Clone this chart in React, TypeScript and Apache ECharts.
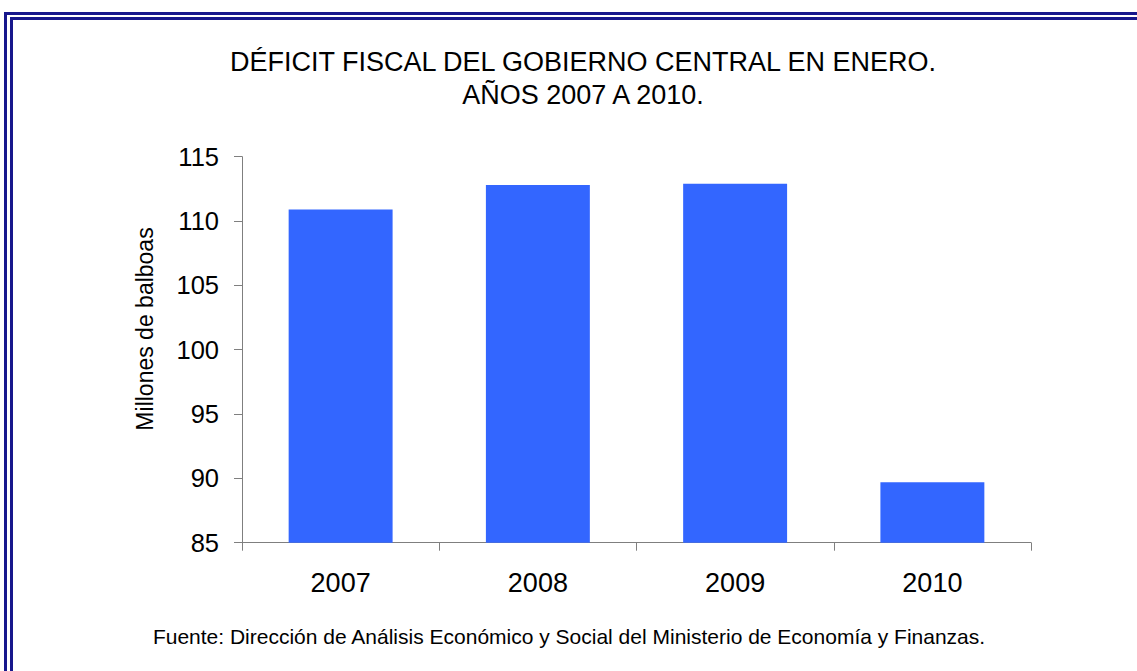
import React, { useEffect, useRef } from "react";
import * as echarts from "echarts";

const titleLines = ["DÉFICIT FISCAL DEL GOBIERNO CENTRAL EN ENERO.", "AÑOS 2007 A 2010."];
const categories = ["2007", "2008", "2009", "2010"];
const deficit = [110.9, 112.8, 112.9, 89.7];
const yAxisName = "Millones de balboas";
const sourceNote = "Fuente: Dirección de Análisis Económico y Social del Ministerio de Economía y Finanzas.";

const FONT = "'Liberation Sans', Arial, sans-serif";
const NAVY = "#17178c";

export default function App() {
  const ref = useRef<HTMLDivElement>(null);
  useEffect(() => {
    if (!ref.current) return;
    const chart = echarts.init(ref.current, undefined, { renderer: "svg" });
    chart.setOption({
      animation: false,
      backgroundColor: "#ffffff",
      textStyle: { fontFamily: FONT },
      title: {
        text: titleLines.join("\n"),
        left: 578,
        top: 40,
        textAlign: "center",
        textStyle: { fontFamily: FONT, fontSize: 27, fontWeight: "normal", color: "#000", lineHeight: 33 },
      },
      grid: { left: 242, top: 156.7, right: 106, bottom: 128.3, containLabel: false },
      xAxis: {
        type: "category",
        data: categories,
        axisLine: { lineStyle: { color: "#7f7f7f", width: 1 } },
        axisTick: { show: true, length: 8, alignWithLabel: false, lineStyle: { color: "#7f7f7f" } },
        axisLabel: { fontFamily: FONT, fontSize: 27, color: "#000", margin: 27 },
      },
      yAxis: {
        type: "value",
        min: 85,
        max: 115,
        interval: 5,
        axisLine: { show: true, lineStyle: { color: "#7f7f7f", width: 1 } },
        axisTick: { show: true, length: 8, lineStyle: { color: "#7f7f7f" } },
        splitLine: { show: false },
        axisLabel: { fontFamily: FONT, fontSize: 25.5, color: "#000", margin: 23 },
      },
      series: [
        {
          type: "bar",
          data: deficit,
          barWidth: "52.7%",
          itemStyle: { color: "#3366ff" },
        },
      ],
      graphic: [
        {
          type: "rect",
          shape: { x: 5.5, y: 13.5, width: 1300, height: 900 },
          style: { fill: "none", stroke: NAVY, lineWidth: 3 },
          silent: true,
        },
        {
          type: "rect",
          shape: { x: 11.5, y: 18.5, width: 1300, height: 900 },
          style: { fill: "none", stroke: NAVY, lineWidth: 3 },
          silent: true,
        },
        {
          type: "text",
          x: 145,
          y: 329,
          rotation: Math.PI / 2,
          style: {
            text: yAxisName,
            fontFamily: FONT,
            fontSize: 23,
            fill: "#000",
            align: "center",
            verticalAlign: "middle",
          },
        },
        {
          type: "text",
          x: 569,
          y: 636,
          style: {
            text: sourceNote,
            fontFamily: FONT,
            fontSize: 21,
            fill: "#000",
            align: "center",
            verticalAlign: "middle",
          },
        },
      ],
    });
    return () => chart.dispose();
  }, []);
  return <div ref={ref} style={{ position: "absolute", left: 0, top: 0, width: 1137, height: 671 }} />;
}
